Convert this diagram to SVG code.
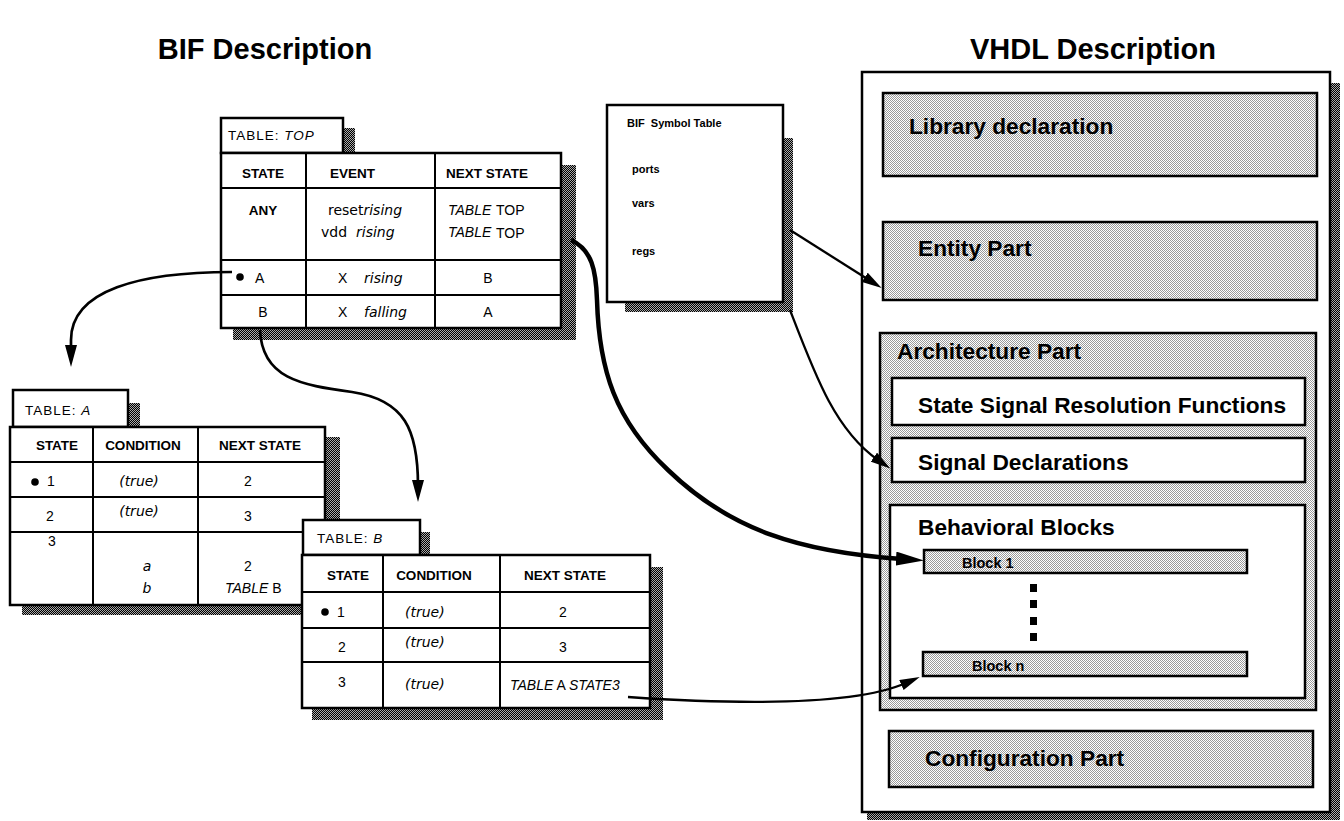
<svg xmlns="http://www.w3.org/2000/svg" width="1344" height="821" viewBox="0 0 1344 821">
  <style>
    .title { font-family: "Liberation Sans", Arial, sans-serif; font-weight: bold; font-size: 29px; fill: #000; }
    .frame { fill: #fff; stroke: #000; stroke-width: 2.5; }
    .grid { stroke: #000; stroke-width: 2; fill: none; }
    .shadow { fill: url(#dark); stroke: none; }
    .panel { fill: url(#shade); stroke: #000; stroke-width: 2.5; }
    .inner { fill: #fff; stroke: #000; stroke-width: 2.5; }
    .tab { font-family: "Liberation Sans", Arial, sans-serif; font-size: 13.5px; letter-spacing: 1px; fill: #000; }
    .hd { font-family: "Liberation Sans", Arial, sans-serif; font-weight: bold; font-size: 13.5px; fill: #000; }
    .tx { font-family: "DejaVu Sans", sans-serif; font-size: 14px; fill: #000; }
    .cp { font-family: "Liberation Sans", Arial, sans-serif; font-size: 14px; fill: #000; }
    .it { font-style: italic; }
    .sym { font-family: "Liberation Sans", Arial, sans-serif; font-weight: bold; font-size: 11px; fill: #000; }
    .lbl { font-family: "Liberation Sans", Arial, sans-serif; font-weight: bold; font-size: 22.7px; fill: #000; }
    .blk { font-family: "Liberation Sans", Arial, sans-serif; font-weight: bold; font-size: 14.5px; fill: #000; }
    .wire { fill: none; stroke: #000; stroke-width: 2.7; }
    .thin { fill: none; stroke: #000; stroke-width: 2.3; }
    .heavy { fill: none; stroke: #000; stroke-width: 4.5; }
  </style>
  <defs>
    <!-- light stipple for VHDL sections -->
    <pattern id="shade" width="2" height="2" patternUnits="userSpaceOnUse">
      <rect width="2" height="2" fill="#fff"/>
      <rect width="1" height="1" fill="#9a9a9a"/>
      <rect x="1" y="1" width="1" height="1" fill="#9a9a9a"/>
    </pattern>
    <!-- dark checker for drop shadows -->
    <pattern id="dark" width="2" height="2" patternUnits="userSpaceOnUse">
      <rect width="2" height="2" fill="#000"/>
      <rect width="1" height="1" fill="#aaa"/>
      <rect x="1" y="1" width="1" height="1" fill="#aaa"/>
    </pattern>
    <marker id="arrowM" viewBox="0 0 22 12" refX="6" refY="6" markerWidth="22" markerHeight="12" orient="auto" markerUnits="userSpaceOnUse">
      <path d="M0,0 L22,6 L0,12 z" fill="#000"/>
    </marker>
    <marker id="arrowS" viewBox="0 0 20 11" refX="5" refY="5.5" markerWidth="20" markerHeight="11" orient="auto" markerUnits="userSpaceOnUse">
      <path d="M0,0 L20,5.5 L0,11 z" fill="#000"/>
    </marker>
    <marker id="arrowL" viewBox="0 0 28 14" refX="6" refY="7" markerWidth="28" markerHeight="14" orient="auto" markerUnits="userSpaceOnUse">
      <path d="M0,0 L28,7 L0,14 z" fill="#000"/>
    </marker>
  </defs>

  <rect width="1344" height="821" fill="#fff"/>

  <text class="title" x="265" y="59" text-anchor="middle">BIF Description</text>
  <text class="title" x="1093" y="59" text-anchor="middle">VHDL Description</text>

  <!-- state table TOP -->
  <g id="table-top">
    <rect class="shadow" x="343" y="128" width="12" height="25"/>
    <rect class="frame" x="221" y="118" width="122" height="35"/>
    <text class="tab" x="228" y="140">TABLE: <tspan class="it">TOP</tspan></text>
    <rect class="shadow" x="233" y="165" width="343" height="175"/>
    <rect class="frame" x="221" y="153" width="340" height="175"/>
    <path class="grid" d="M306,153 V328 M435,153 V328 M221,188 H561 M221,260 H561 M221,295 H561"/>
    <text class="hd" x="263" y="178" text-anchor="middle">STATE</text>
    <text class="hd" x="330" y="178">EVENT</text>
    <text class="hd" x="446" y="178">NEXT STATE</text>
    <text class="hd" x="263" y="215" text-anchor="middle">ANY</text>
    <text class="tx" x="328" y="215">reset<tspan class="it">rising</tspan></text>
    <text class="tx" x="321" y="237">vdd <tspan class="it" x="356">rising</tspan></text>
    <text class="cp it" x="448" y="215">TABLE</text>
    <text class="cp" x="496" y="215">TOP</text>
    <text class="cp it" x="448" y="237">TABLE</text>
    <text class="cp" x="496" y="238">TOP</text>
    <circle cx="240" cy="277" r="3.8"/>
    <text class="cp" x="255" y="283">A</text>
    <text class="cp" x="338" y="283">X</text>
    <text class="tx it" x="364" y="283">rising</text>
    <text class="cp" x="488" y="283" text-anchor="middle">B</text>
    <text class="cp" x="263" y="317" text-anchor="middle">B</text>
    <text class="cp" x="338" y="317">X</text>
    <text class="tx it" x="364" y="317">falling</text>
    <text class="cp" x="488" y="317" text-anchor="middle">A</text>
  </g>

  <!-- symbol table -->
  <g id="symbol-table">
    <rect class="shadow" x="625" y="138" width="168" height="174"/>
    <rect class="frame" x="607" y="105" width="176" height="197"/>
    <text class="sym" x="627" y="127" xml:space="preserve">BIF  Symbol Table</text>
    <text class="sym" x="632" y="173">ports</text>
    <text class="sym" x="632" y="207">vars</text>
    <text class="sym" x="632" y="255">regs</text>
  </g>

  <!-- state table A -->
  <g id="table-a">
    <rect class="shadow" x="128" y="403" width="12" height="24"/>
    <rect class="frame" x="13" y="390" width="115" height="37"/>
    <text class="tab" x="25" y="415">TABLE: <tspan class="it">A</tspan></text>
    <rect class="shadow" x="22" y="437" width="318" height="178"/>
    <rect class="frame" x="10" y="427" width="315" height="178"/>
    <path class="grid" d="M93,427 V605 M198,427 V605 M10,462 H325 M10,497 H325 M10,532 H325"/>
    <text class="hd" x="57" y="450" text-anchor="middle">STATE</text>
    <text class="hd" x="143" y="450" text-anchor="middle">CONDITION</text>
    <text class="hd" x="260" y="450" text-anchor="middle">NEXT STATE</text>
    <circle cx="35" cy="482" r="3.8"/>
    <text class="cp" x="47" y="486">1</text>
    <text class="tx it" x="139" y="486" text-anchor="middle">(true)</text>
    <text class="cp" x="248" y="486" text-anchor="middle">2</text>
    <text class="cp" x="50" y="521" text-anchor="middle">2</text>
    <text class="tx it" x="139" y="516" text-anchor="middle">(true)</text>
    <text class="cp" x="248" y="521" text-anchor="middle">3</text>
    <text class="cp" x="52" y="546" text-anchor="middle">3</text>
    <text class="tx it" x="147" y="571" text-anchor="middle">a</text>
    <text class="cp" x="248" y="571" text-anchor="middle">2</text>
    <text class="tx it" x="147" y="593" text-anchor="middle">b</text>
    <text class="cp" x="225" y="593"><tspan class="it">TABLE</tspan> B</text>
  </g>

  <!-- state table B -->
  <g id="table-b">
    <rect class="shadow" x="420" y="532" width="10" height="23"/>
    <rect class="frame" x="303" y="520" width="117" height="35"/>
    <text class="tab" x="317" y="543">TABLE: <tspan class="it">B</tspan></text>
    <rect class="shadow" x="312" y="567" width="351" height="153"/>
    <rect class="frame" x="302" y="555" width="348" height="153"/>
    <path class="grid" d="M383,555 V708 M500,555 V708 M302,592 H650 M302,628 H650 M302,662 H650"/>
    <text class="hd" x="348" y="580" text-anchor="middle">STATE</text>
    <text class="hd" x="434" y="580" text-anchor="middle">CONDITION</text>
    <text class="hd" x="565" y="580" text-anchor="middle">NEXT STATE</text>
    <circle cx="325" cy="612" r="3.8"/>
    <text class="cp" x="337" y="617">1</text>
    <text class="tx it" x="405" y="617">(true)</text>
    <text class="cp" x="563" y="617" text-anchor="middle">2</text>
    <text class="cp" x="342" y="652" text-anchor="middle">2</text>
    <text class="tx it" x="405" y="647">(true)</text>
    <text class="cp" x="563" y="652" text-anchor="middle">3</text>
    <text class="cp" x="342" y="687" text-anchor="middle">3</text>
    <text class="tx it" x="405" y="689">(true)</text>
    <text class="cp" x="510" y="690"><tspan class="it">TABLE</tspan> A <tspan class="it">STATE3</tspan></text>
  </g>

  <!-- VHDL description frame -->
  <g id="vhdl">
    <rect class="shadow" x="867" y="83" width="473" height="737"/>
    <rect class="frame" x="862" y="72" width="468" height="740"/>
  </g>
  <g id="library-declaration">
    <rect class="panel" x="883" y="93" width="434" height="83"/>
    <text class="lbl" x="909" y="134">Library declaration</text>
  </g>
  <g id="entity-part">
    <rect class="panel" x="883" y="222" width="434" height="78"/>
    <text class="lbl" x="918" y="256">Entity Part</text>
  </g>
  <g id="architecture-part">
    <rect class="panel" x="880" y="333" width="436" height="377"/>
    <text class="lbl" x="897" y="359">Architecture Part</text>
  </g>
  <g id="resolution-functions">
    <rect class="inner" x="892" y="378" width="413" height="47"/>
    <text class="lbl" x="918" y="413">State Signal Resolution Functions</text>
  </g>
  <g id="signal-declarations">
    <rect class="inner" x="892" y="438" width="413" height="44"/>
    <text class="lbl" x="918" y="470">Signal Declarations</text>
  </g>
  <g id="behavioral-blocks">
    <rect class="inner" x="890" y="505" width="415" height="193"/>
    <text class="lbl" x="918" y="535">Behavioral Blocks</text>
  </g>
  <g id="block-1">
    <rect class="panel" x="924" y="550" width="323" height="23"/>
    <text class="blk" x="962" y="568">Block 1</text>
  </g>
  <g id="block-ellipsis">
    <rect x="1030" y="584" width="7" height="8"/>
    <rect x="1030" y="600" width="7" height="8"/>
    <rect x="1030" y="617" width="7" height="8"/>
    <rect x="1030" y="633" width="7" height="8"/>
  </g>
  <g id="block-n">
    <rect class="panel" x="923" y="652" width="324" height="24"/>
    <text class="blk" x="972" y="671">Block n</text>
  </g>
  <g id="configuration-part">
    <rect class="panel" x="889" y="731" width="424" height="56"/>
    <text class="lbl" x="925" y="766">Configuration Part</text>
  </g>

  <!-- connectors -->
  <g id="connectors">
    <path class="wire" d="M232,272 C140,272 71,290 71,340 L71,351" marker-end="url(#arrowM)"/>
    <path class="wire" d="M260,330 C262,378 300,385 352,392 C405,400 418,430 418,486" marker-end="url(#arrowM)"/>
    <path class="heavy" d="M571,240 C592,250 596,270 597,300 C599,370 615,420 668,470 C730,530 800,552 902,559" marker-end="url(#arrowL)"/>
    <path class="thin" d="M790,230 L869,280" marker-end="url(#arrowS)"/>
    <path class="thin" d="M790,310 C815,375 835,430 878,460" marker-end="url(#arrowS)"/>
    <path class="thin" d="M628,697 C760,706 860,703 906,683" marker-end="url(#arrowS)"/>
  </g>
</svg>
